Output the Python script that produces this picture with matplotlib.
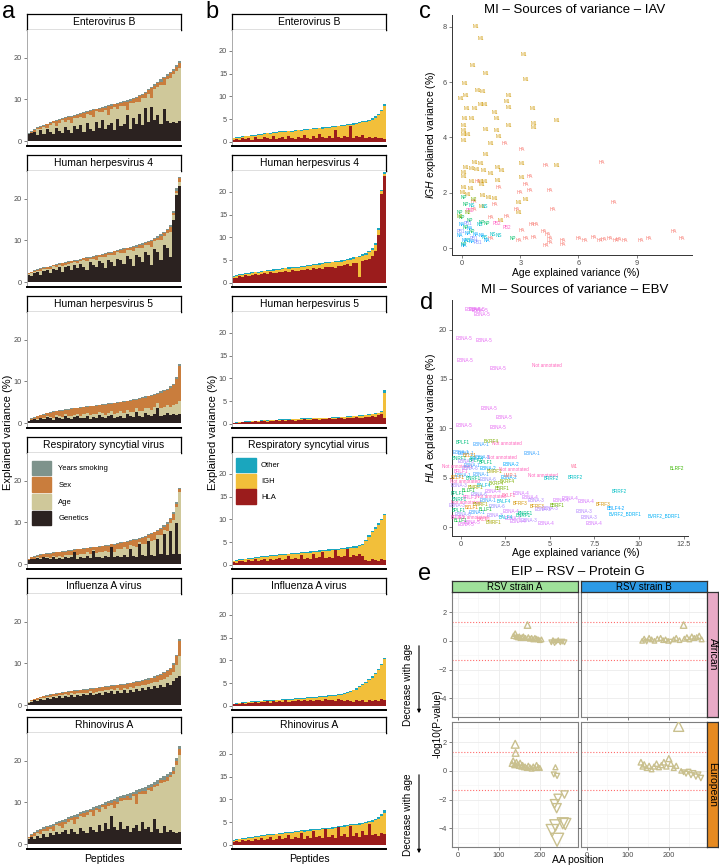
import numpy as np
from matplotlib import pyplot as plt
from matplotlib.patches import Patch

plt.rcParams['font.family'] = ['Liberation Sans', 'DejaVu Sans']
plt.rcParams['mathtext.fontset'] = 'custom'
plt.rcParams['mathtext.it'] = 'Liberation Sans:italic'
plt.rcParams['mathtext.rm'] = 'Liberation Sans'

# ---------------- panel a / b : explained variance per peptide ----------------
viruses = ['Enterovirus B', 'Human herpesvirus 4', 'Human herpesvirus 5',
           'Respiratory syncytial virus', 'Influenza A virus', 'Rhinovirus A']

# panel a: total, genetics, sex, years smoking (age = the rest)
ent_tot = [1.8,2.4,2.9,3.3,3.6,3.9,4.2,4.5,4.8,5.0,5.3,5.5,5.7,5.9,6.1,6.3,6.5,6.8,7.0,7.2,7.4,7.6,7.8,8.0,8.2,8.4,8.6,8.8,9.0,9.2,9.4,9.6,9.8,10.0,10.3,10.6,11.0,11.4,11.9,12.4,13.0,13.6,14.2,14.8,15.4,16.0,16.7,17.4,18.2,19.3]
ent_gen = [1.6,1.9,2.2,1.5,2.6,1.8,2.9,2.1,1.7,3.1,2.4,1.9,3.3,2.6,2.0,3.6,2.8,3.9,2.2,4.3,3.0,2.5,4.6,3.2,5.1,2.8,3.9,4.4,2.6,5.3,3.6,4.2,6.2,2.9,5.5,4.1,6.6,3.8,7.9,4.6,8.2,5.1,6.3,4.0,7.7,4.8,4.3,4.6,4.4,4.7]
ent_sex = [0.2,0.3,0.5,0.4,0.6,0.3,0.8,0.5,0.4,1.1,0.6,0.3,0.9,0.7,1.4,0.5,0.8,0.6,1.2,0.4,0.9,1.6,0.5,0.7,1.0,0.6,2.1,0.8,0.5,1.3,0.7,0.9,1.8,0.6,1.0,0.8,1.5,0.7,1.2,0.9,2.4,0.8,1.1,0.9,1.6,0.7,1.3,0.8,1.0,1.2]
ent_smk = [0.1,0.2,0.2,0.1,0.2,0.3,0.2,0.2,0.1,0.2,0.3,0.2,0.2,0.1,0.3,0.2,0.2,0.4,0.2,0.2,0.3,0.2,0.2,0.3,0.2,0.4,0.2,0.3,0.2,0.2,0.3,0.2,0.5,0.3,0.2,0.3,0.2,0.4,0.3,0.2,0.3,0.4,0.2,0.5,0.3,0.4,0.3,0.5,0.4,0.6]

hhv4_tot = [2.2,2.5,2.8,3.1,3.3,3.5,3.7,3.9,4.1,4.3,4.5,4.6,4.8,5.0,5.1,5.3,5.4,5.6,5.8,5.9,6.1,6.3,6.4,6.6,6.8,7.0,7.1,7.3,7.5,7.7,7.9,8.1,8.3,8.5,8.7,8.9,9.1,9.3,9.6,9.9,10.2,10.6,11.0,11.5,12.1,12.8,13.6,17.0,22.5,25.3]
hhv4_gen = [1.8,1.5,2.1,2.4,1.7,2.6,3.0,2.2,3.2,2.8,3.5,2.4,3.6,3.9,2.9,4.1,3.3,4.4,3.7,3.0,4.8,4.1,3.5,5.0,4.6,3.4,5.3,4.8,3.9,5.6,5.2,4.4,6.3,5.5,3.8,6.6,5.9,4.7,7.2,6.4,4.1,7.9,7.3,5.2,9.0,8.1,6.0,14.8,21.0,23.0]
hhv4_sex = [0.2,0.3,0.2,0.3,0.4,0.2,0.3,0.5,0.2,0.4,0.3,0.6,0.3,0.4,0.5,0.3,0.6,0.3,0.4,0.7,0.3,0.5,0.8,0.4,0.5,0.9,0.3,0.6,0.8,0.4,0.7,0.9,0.5,0.6,1.1,0.4,0.7,0.9,0.5,0.8,1.3,0.6,0.7,1.0,0.8,0.9,1.2,0.7,0.6,0.8]
hhv4_smk = [0.1,0.1,0.2,0.1,0.2,0.1,0.2,0.2,0.1,0.2,0.2,0.1,0.3,0.2,0.1,0.2,0.3,0.2,0.1,0.2,0.3,0.2,0.2,0.1,0.3,0.2,0.2,0.3,0.1,0.2,0.3,0.2,0.2,0.3,0.2,0.4,0.2,0.3,0.2,0.3,0.4,0.2,0.3,0.4,0.3,0.2,0.4,0.3,0.5,0.4]

hhv5_tot = [0.6,1.0,1.4,1.7,2.0,2.2,2.4,2.6,2.8,3.0,3.1,3.2,3.3,3.4,3.5,3.6,3.7,3.8,3.9,4.0,4.1,4.2,4.3,4.4,4.5,4.6,4.7,4.8,4.9,5.0,5.1,5.2,5.4,5.5,5.7,5.8,6.0,6.2,6.4,6.6,6.8,7.0,7.3,7.6,7.9,8.3,8.8,9.5,11.0,14.2]
hhv5_gen = [0.5,0.8,1.0,0.7,1.2,0.9,1.4,1.1,0.8,1.5,1.2,1.0,1.6,1.3,0.9,1.4,1.7,1.1,1.3,1.8,1.0,1.5,1.2,1.9,1.4,1.1,1.6,2.0,1.3,1.5,1.8,1.2,2.2,1.6,1.4,2.6,1.7,1.5,2.3,1.9,1.6,2.1,3.5,1.8,2.0,2.4,1.9,2.2,2.0,2.1]
hhv5_sex = [0.1,0.2,0.3,0.7,0.6,0.9,0.7,1.0,1.3,1.0,1.2,1.5,1.1,1.4,1.8,1.5,1.3,1.9,1.7,1.4,2.1,1.8,2.0,1.6,2.0,2.4,2.1,1.8,2.5,2.3,2.0,2.7,2.1,2.5,2.9,2.0,2.8,3.1,2.6,2.9,3.4,3.0,2.2,3.6,3.8,3.7,4.5,4.8,6.0,8.5]
hhv5_smk = [0.0,0.1,0.1,0.1,0.1,0.2,0.1,0.1,0.2,0.1,0.1,0.2,0.1,0.2,0.1,0.1,0.2,0.2,0.1,0.2,0.1,0.2,0.2,0.1,0.2,0.2,0.1,0.2,0.2,0.3,0.1,0.2,0.2,0.3,0.2,0.2,0.3,0.2,0.3,0.2,0.3,0.2,0.3,0.4,0.3,0.3,0.4,0.3,0.4,0.5]

rsv_tot = [1.2,1.6,1.9,2.1,2.3,2.4,2.6,2.7,2.8,2.9,3.0,3.1,3.2,3.3,3.4,3.5,3.6,3.7,3.8,3.9,4.0,4.1,4.2,4.3,4.4,4.5,4.6,4.8,4.9,5.0,5.2,5.3,5.5,5.7,5.9,6.1,6.3,6.5,6.8,7.1,7.4,7.8,8.2,8.7,9.3,10.0,11.0,12.5,14.8,18.3]
rsv_gen = [1.0,1.3,1.1,1.5,1.2,1.6,1.4,1.1,1.7,1.3,1.5,1.2,1.8,1.4,1.6,2.9,1.3,1.7,1.5,1.9,1.4,3.1,1.6,1.8,1.5,2.0,1.7,4.1,1.6,1.9,1.8,2.2,1.7,3.5,2.0,1.8,4.7,2.1,1.9,5.6,2.2,2.0,6.1,2.4,7.3,2.1,8.0,2.3,9.9,2.5]
rsv_sex = [0.2,0.3,0.6,0.4,0.7,0.5,0.8,1.0,0.7,1.0,0.9,1.2,0.8,1.1,1.0,0.5,1.3,1.1,1.2,1.0,1.4,0.6,1.3,1.2,1.5,1.1,1.4,0.5,1.6,1.3,1.5,1.2,1.7,1.0,1.4,1.6,0.8,1.5,1.7,0.7,1.6,1.8,0.9,1.5,0.8,1.7,0.9,1.6,0.7,0.6]
rsv_smk = [0.0,0.1,0.1,0.1,0.2,0.1,0.1,0.2,0.1,0.1,0.2,0.1,0.2,0.1,0.2,0.1,0.1,0.2,0.2,0.1,0.2,0.1,0.2,0.2,0.1,0.2,0.2,0.1,0.3,0.2,0.2,0.1,0.3,0.2,0.2,0.3,0.2,0.2,0.3,0.2,0.3,0.2,0.3,0.2,0.3,0.3,0.2,0.4,0.3,0.3]

iav_tot = [0.8,1.2,1.5,1.8,2.0,2.2,2.4,2.6,2.7,2.9,3.0,3.1,3.2,3.3,3.4,3.5,3.6,3.7,3.8,3.9,4.0,4.1,4.2,4.3,4.4,4.5,4.6,4.7,4.8,4.9,5.0,5.1,5.2,5.4,5.5,5.7,5.8,6.0,6.2,6.4,6.6,6.9,7.2,7.5,7.9,8.4,9.0,10.0,12.0,15.8]
iav_gen = [0.6,0.8,1.1,1.0,1.4,1.3,1.7,1.5,1.9,1.6,2.1,1.8,2.2,1.9,2.4,2.0,2.5,2.2,2.7,2.3,2.9,2.4,2.6,3.0,2.5,3.1,2.8,3.3,2.7,3.4,3.0,3.5,2.9,3.7,3.2,3.9,3.4,4.0,3.6,4.3,3.8,4.6,4.0,4.9,4.4,5.2,4.9,5.8,6.5,7.0]
iav_sex = [0.1,0.2,0.2,0.4,0.3,0.4,0.3,0.5,0.4,0.6,0.4,0.6,0.5,0.7,0.5,0.7,0.6,0.8,0.6,0.8,0.6,0.9,0.8,0.7,0.9,0.7,0.9,0.7,1.0,0.8,1.0,0.8,1.1,0.9,1.0,0.9,1.1,1.0,1.2,1.0,1.2,1.1,1.3,1.2,1.4,1.3,1.5,1.6,2.0,3.5]
iav_smk = [0.0,0.1,0.1,0.1,0.1,0.1,0.2,0.1,0.1,0.2,0.1,0.2,0.1,0.2,0.1,0.2,0.2,0.1,0.2,0.2,0.1,0.2,0.2,0.2,0.1,0.2,0.2,0.2,0.2,0.1,0.3,0.2,0.2,0.2,0.3,0.2,0.2,0.3,0.2,0.3,0.2,0.3,0.3,0.2,0.3,0.3,0.3,0.4,0.3,0.4]

rhv_tot = [1.8,2.4,2.9,3.3,3.7,4.0,4.3,4.6,4.9,5.2,5.5,5.8,6.1,6.4,6.7,7.0,7.3,7.6,7.9,8.2,8.5,8.8,9.1,9.4,9.7,10.0,10.3,10.6,10.9,11.2,11.5,11.8,12.1,12.3,12.6,12.9,13.2,13.5,13.8,14.1,14.5,14.9,15.4,15.9,16.4,16.8,17.4,18.5,20.8,23.5]
rhv_gen = [1.2,1.6,1.3,2.0,1.5,2.4,1.8,2.6,2.1,3.0,2.3,2.8,3.3,2.5,3.6,2.9,2.4,3.9,3.1,2.7,4.2,3.4,2.9,4.6,3.2,5.0,3.5,6.8,4.1,3.3,5.4,3.7,4.3,2.9,3.8,4.6,3.2,5.2,3.6,4.1,2.8,5.9,3.5,2.7,4.4,3.0,3.4,2.9,2.6,2.8]
rhv_sex = [0.2,0.4,0.7,0.3,0.9,0.4,0.8,0.5,1.2,0.4,0.7,1.5,0.5,0.8,0.4,1.9,0.6,0.5,1.0,0.6,0.4,1.3,0.5,0.7,0.5,0.9,0.6,0.4,1.6,0.5,0.7,0.4,0.9,0.5,0.6,2.4,0.5,0.8,0.6,0.5,0.9,0.6,0.5,0.7,0.6,0.8,0.5,0.7,0.9,1.4]
rhv_smk = [0.2,0.3,0.2,0.4,0.3,0.5,0.3,0.4,0.6,0.3,0.5,0.4,0.7,0.3,0.5,0.4,0.8,0.4,0.5,0.6,0.4,0.7,0.5,0.9,0.4,0.6,0.5,0.8,0.6,1.0,0.5,0.7,0.6,1.2,0.5,0.8,0.6,0.7,1.1,0.6,0.8,0.7,0.9,0.6,1.0,0.8,0.7,0.9,0.8,0.6]

# panel b: total, HLA, other (IGH = the rest)
ent_btot = [0.9,1.0,1.1,1.2,1.3,1.4,1.5,1.6,1.7,1.8,1.9,2.0,2.0,2.1,2.2,2.3,2.3,2.4,2.5,2.5,2.6,2.7,2.7,2.8,2.9,2.9,3.0,3.1,3.1,3.2,3.3,3.3,3.4,3.5,3.6,3.7,3.8,3.9,4.0,4.1,4.2,4.4,4.5,4.7,4.9,5.2,5.6,6.2,7.0,8.3]
ent_hla = [0.5,0.7,0.4,0.8,0.6,0.9,0.5,1.0,0.7,0.6,1.1,0.8,0.6,1.2,0.7,0.9,1.0,0.6,1.3,0.8,0.7,1.1,0.9,1.5,0.8,0.7,1.2,0.9,1.8,1.0,0.8,1.3,0.9,2.6,1.0,0.8,1.4,1.1,3.4,0.9,1.2,1.0,1.5,0.8,1.1,0.9,1.0,0.8,0.9,0.7]
ent_oth = [0.1,0.1,0.2,0.1,0.1,0.2,0.1,0.2,0.1,0.2,0.2,0.1,0.3,0.1,0.2,0.1,0.2,0.2,0.1,0.3,0.2,0.1,0.2,0.2,0.3,0.1,0.2,0.2,0.1,0.3,0.2,0.2,0.1,0.3,0.2,0.2,0.4,0.2,0.2,0.3,0.2,0.3,0.2,0.3,0.2,0.3,0.3,0.2,0.3,0.4]

hhv4_btot = [1.5,1.7,1.9,2.0,2.1,2.2,2.3,2.4,2.5,2.6,2.7,2.8,2.9,3.0,3.0,3.1,3.2,3.3,3.4,3.5,3.5,3.6,3.7,3.8,3.9,4.0,4.1,4.2,4.3,4.4,4.5,4.6,4.7,4.8,4.9,5.0,5.1,5.3,5.4,5.6,5.8,6.0,6.3,6.6,7.0,7.6,8.8,12.0,20.5,24.3]
hhv4_hla = [1.1,1.0,1.5,1.4,1.7,1.5,1.8,1.9,1.7,2.0,2.1,1.9,2.3,2.2,2.1,2.5,2.3,2.6,2.5,2.8,2.6,2.7,2.9,2.8,3.1,2.9,3.2,3.1,3.3,3.0,3.5,3.4,3.6,3.3,3.8,3.7,3.9,4.1,3.8,4.3,4.4,1.2,4.8,5.0,5.3,5.9,7.0,10.5,19.5,23.5]
hhv4_oth = [0.1,0.2,0.1,0.2,0.1,0.2,0.2,0.1,0.3,0.2,0.1,0.2,0.2,0.3,0.1,0.2,0.2,0.1,0.3,0.2,0.2,0.3,0.1,0.2,0.2,0.3,0.2,0.2,0.3,0.2,0.2,0.3,0.2,0.3,0.2,0.3,0.3,0.2,0.3,0.3,0.2,0.3,0.3,0.4,0.3,0.3,0.4,0.3,0.3,0.4]

hhv5_btot = [0.3,0.4,0.5,0.5,0.6,0.6,0.7,0.7,0.7,0.8,0.8,0.8,0.9,0.9,0.9,1.0,1.0,1.0,1.0,1.1,1.1,1.1,1.2,1.2,1.2,1.2,1.3,1.3,1.3,1.4,1.4,1.4,1.5,1.5,1.5,1.6,1.6,1.7,1.7,1.8,1.8,1.9,1.9,2.0,2.1,2.2,2.3,2.5,2.9,7.4]
hhv5_hla = [0.2,0.3,0.3,0.4,0.4,0.5,0.4,0.6,0.5,0.6,0.7,0.5,0.7,0.6,0.8,0.7,0.8,0.7,0.9,0.8,0.7,0.9,0.8,1.0,0.9,0.8,1.0,1.1,0.9,1.1,1.0,1.2,1.1,1.0,1.3,1.2,1.1,1.3,1.4,1.2,1.5,1.3,1.4,1.6,1.5,1.7,1.6,1.9,2.2,1.4]
hhv5_oth = [0.1,0.1,0.1,0.0,0.1,0.1,0.1,0.1,0.1,0.1,0.0,0.1,0.1,0.1,0.1,0.1,0.1,0.1,0.1,0.1,0.1,0.1,0.1,0.1,0.1,0.1,0.1,0.1,0.1,0.1,0.1,0.1,0.1,0.1,0.1,0.1,0.1,0.1,0.1,0.1,0.1,0.1,0.1,0.1,0.1,0.1,0.1,0.1,0.2,0.5]

rsv_btot = [0.9,1.1,1.2,1.3,1.4,1.5,1.6,1.7,1.8,1.9,2.0,2.0,2.1,2.2,2.2,2.3,2.4,2.4,2.5,2.6,2.6,2.7,2.8,2.8,2.9,3.0,3.0,3.1,3.2,3.2,3.3,3.4,3.5,3.5,3.6,3.7,3.8,3.9,4.0,4.1,4.2,4.4,4.6,5.5,6.5,7.5,8.3,9.2,10.2,11.3]
rsv_hla = [0.7,0.5,0.9,0.8,0.6,1.0,0.9,1.2,0.8,1.1,1.3,0.9,1.4,1.0,1.2,1.6,1.1,1.3,1.9,1.2,1.5,1.3,2.1,1.4,1.6,1.3,2.4,1.5,1.7,2.9,1.6,1.8,1.5,3.3,1.9,1.7,2.0,3.6,1.8,2.2,1.9,2.3,2.0,1.1,0.9,1.3,1.0,0.8,1.2,1.0]
rsv_oth = [0.1,0.2,0.1,0.2,0.2,0.1,0.2,0.2,0.3,0.1,0.2,0.2,0.2,0.3,0.2,0.2,0.3,0.2,0.2,0.3,0.2,0.3,0.2,0.2,0.3,0.3,0.2,0.3,0.3,0.2,0.3,0.3,0.3,0.2,0.3,0.3,0.3,0.3,0.3,0.3,0.4,0.3,0.3,0.3,0.4,0.3,0.3,0.4,0.3,0.4]

iav_btot = [0.5,0.6,0.7,0.8,0.8,0.9,1.0,1.0,1.1,1.1,1.2,1.2,1.3,1.3,1.4,1.4,1.5,1.5,1.6,1.6,1.7,1.7,1.8,1.8,1.9,1.9,2.0,2.0,2.1,2.2,2.2,2.3,2.4,2.5,2.6,2.7,2.9,3.1,3.3,3.6,3.9,4.3,4.8,5.3,5.9,6.5,7.3,8.2,9.3,10.6]
iav_hla = [0.4,0.4,0.5,0.6,0.5,0.7,0.6,0.8,0.7,0.9,0.8,1.0,0.7,1.0,0.9,1.1,0.8,1.2,0.9,1.1,1.0,1.3,1.0,1.2,1.1,1.4,1.0,1.3,1.2,1.1,1.5,1.2,1.3,1.1,1.6,1.2,1.0,1.4,1.1,0.9,1.3,1.0,1.2,0.9,1.4,1.1,1.3,1.0,1.5,1.2]
iav_oth = [0.1,0.1,0.1,0.1,0.2,0.1,0.2,0.1,0.2,0.1,0.2,0.1,0.2,0.2,0.2,0.2,0.2,0.2,0.2,0.2,0.2,0.2,0.2,0.2,0.2,0.2,0.2,0.2,0.2,0.2,0.2,0.2,0.2,0.3,0.2,0.2,0.3,0.2,0.3,0.2,0.3,0.2,0.3,0.3,0.2,0.3,0.3,0.3,0.3,0.3]

rhv_btot = [1.0,1.2,1.4,1.5,1.6,1.7,1.8,1.9,2.0,2.1,2.2,2.3,2.4,2.5,2.5,2.6,2.7,2.8,2.9,2.9,3.0,3.1,3.2,3.2,3.3,3.4,3.5,3.5,3.6,3.7,3.8,3.8,3.9,4.0,4.1,4.2,4.3,4.4,4.5,4.6,4.7,4.8,4.9,5.1,5.3,5.5,5.8,6.2,6.8,7.6]
rhv_hla = [0.6,0.8,0.7,1.0,0.9,1.1,0.8,1.3,1.0,1.5,1.1,1.2,1.7,1.0,1.4,1.9,1.2,1.6,2.2,1.3,1.8,1.5,2.6,1.4,1.9,1.6,3.1,1.7,2.0,1.5,3.4,1.8,2.2,1.6,3.9,1.9,2.4,1.7,4.2,2.0,2.6,1.8,3.0,2.1,4.6,2.2,2.5,2.0,2.7,2.3]
rhv_oth = [0.1,0.2,0.2,0.1,0.2,0.2,0.3,0.2,0.2,0.1,0.3,0.2,0.2,0.3,0.2,0.2,0.3,0.2,0.2,0.3,0.2,0.3,0.2,0.3,0.2,0.3,0.2,0.3,0.3,0.2,0.3,0.3,0.3,0.2,0.2,0.3,0.3,0.3,0.2,0.3,0.3,0.4,0.3,0.3,0.3,0.4,0.3,0.4,0.4,0.5]

a_sets = [(ent_tot, ent_gen, ent_sex, ent_smk), (hhv4_tot, hhv4_gen, hhv4_sex, hhv4_smk),
          (hhv5_tot, hhv5_gen, hhv5_sex, hhv5_smk), (rsv_tot, rsv_gen, rsv_sex, rsv_smk),
          (iav_tot, iav_gen, iav_sex, iav_smk), (rhv_tot, rhv_gen, rhv_sex, rhv_smk)]
b_sets = [(ent_btot, ent_hla, ent_oth), (hhv4_btot, hhv4_hla, hhv4_oth), (hhv5_btot, hhv5_hla, hhv5_oth),
          (rsv_btot, rsv_hla, rsv_oth), (iav_btot, iav_hla, iav_oth), (rhv_btot, rhv_hla, rhv_oth)]

# ---------------- panel c : IAV ----------------
iav_m1_x = [0.69,0.98,3.18,0.57,1.2,3.3,0.12,0.82,1.08,-0.05,0.2,2.39,2.32,0.94,1.15,0.26,0.65,2.39,3.66,1.68,0.12,0.51,1.8,4.86,2.42,3.7,3.7,0.07,0.07,0.07,0.07,0.31,1.23,1.8,1.9,1.5,1.23,0.65,0.98,0.2,0.5,0.75,1.1,3.1,4.86,1.85,2.05,1.5,0.07,0.07,0.5,0.94,1.15,3.1,1.85,1.0,0.1,0.45,0.05,0.3,1.05,1.4,1.7,3.3,2.9,1.0,2.9,2.0]
iav_m1_y = [8.0,7.57,7.0,6.6,6.3,6.1,5.95,5.7,5.65,5.4,5.5,5.5,5.3,5.2,5.2,5.05,5.05,5.08,5.05,4.9,4.7,4.68,4.7,4.6,4.43,4.5,4.37,4.43,4.25,4.1,3.9,4.1,4.3,4.25,4.05,3.8,3.4,3.1,3.05,2.9,2.88,2.85,2.82,3.07,3.0,2.9,2.8,2.7,2.75,2.6,2.4,2.4,2.4,2.55,2.45,2.3,2.2,2.15,2.0,1.95,1.9,1.85,1.8,1.75,1.65,1.5,1.3,1.0]
iav_ha_x = [2.2,3.1,4.3,3.5,3.3,3.5,4.5,1.9,3.0,0.82,0.6,1.7,2.8,0.6,4.67,2.3,1.5,3.6,3.8,4.2,4.4,4.5,3.1,3.7,1.5,4.5,7.2,7.8,10.9,11.3,6.0,6.3,6.8,7.1,7.3,7.6,7.9,8.1,8.4,9.2,9.6,5.2,5.2,4.3,3.3,2.9]
iav_ha_y = [3.8,3.55,3.0,2.6,2.3,2.1,2.1,2.2,2.0,2.4,1.7,1.6,1.4,1.4,1.4,1.15,1.1,0.85,0.85,0.6,0.5,0.35,0.65,0.4,0.35,0.2,3.1,1.65,0.6,0.36,0.35,0.3,0.4,0.3,0.32,0.36,0.3,0.33,0.3,0.3,0.36,0.3,0.15,0.1,0.35,0.3]
iav_np_x = [0.1,0.2,-0.1,0.0,0.4,1.0,1.3,0.2,0.5,2.6,0.1]
iav_np_y = [1.85,1.6,1.3,1.1,1.0,0.95,0.9,0.75,0.6,0.35,0.15]
iav_ns_x = [0.5,1.2,0.9,1.6,1.2,0.3,1.9]
iav_ns_y = [1.55,1.5,0.85,0.5,0.4,0.3,0.45]
iav_na_x = [0.0,0.3,0.7,-0.1,0.15,0.5,1.0,1.3,0.1,0.4]
iav_na_y = [0.85,0.55,0.5,0.45,0.3,0.25,0.45,0.3,0.1,0.7]
iav_pb1_x = [0.3,0.6,-0.05,0.8]
iav_pb1_y = [0.9,0.35,0.6,0.2]
iav_pb2_x = [2.3,0.4,1.8]
iav_pb2_y = [0.75,1.35,0.9]
iav_m2_x = [0.3,0.6,-0.1]
iav_m2_y = [1.3,1.75,1.15]

# ---------------- panel d : EBV ----------------
d_x = [0.7,0.9,1.05,1.2,0.15,1.3,0.25,2.1,1.55,2.4,0.2,2.1,0.3,
       4.8,2.6,2.3,-0.2,4.6,0.2,3.0,1.7,0.3,0.7,
       0.1,0.8,1.7,2.0,1.1,4.0,0.3,1.2,0.6,0.1,2.8,1.5,2.7,2.8,6.4,6.4,5.1,8.9,12.1,
       7.0,7.5,3.4,5.6,4.8,2.9,7.95,4.3,8.7,9.2,11.4,6.9,7.2,5.0,3.8,
       0.0,0.5,-0.1,0.9,0.3,1.4,0.5,1.9,0.0,1.1,-0.2,0.7,1.5,2.6,1.3,-0.1,0.8,2.3,0.4,1.8,
       -0.2,1.0,2.7,0.5,3.9,-0.1,1.5,2.4,3.3,1.1,-0.2,2.0,0.6,4.6,1.4,-0.1,2.8,0.9,3.6,0.1,
       1.9,-0.2,2.5,1.3,0.0,3.2,1.8,0.6,6.1,5.4,4.2,3.5]
d_y = [22.0,22.05,21.95,21.5,19.1,18.9,16.9,16.1,12.0,11.1,10.3,10.1,0.3,
       16.4,8.5,7.0,6.1,5.2,4.6,5.8,3.1,2.5,1.0,
       8.6,6.7,8.7,4.4,8.4,7.5,7.5,7.1,6.2,5.2,6.3,5.9,5.0,5.2,6.1,5.0,4.9,3.6,5.9,
       2.6,0.4,3.4,2.7,0.4,0.9,2.3,2.1,1.9,1.3,1.15,1.6,1.0,1.9,0.7,
       7.6,7.3,6.9,6.9,6.6,6.5,5.9,5.6,5.6,5.3,5.0,4.9,4.8,4.6,4.2,4.2,4.0,3.9,3.7,3.6,
       3.4,3.3,3.2,3.0,3.0,2.8,2.7,2.6,2.4,2.3,2.2,2.1,2.0,1.8,1.8,1.7,1.6,1.5,1.4,1.3,
       1.2,1.0,1.0,0.8,0.7,0.6,0.5,0.5,2.9,2.2,2.7,1.2]
d_lab = ['EBNA-5'] * 13 + ['Not annotated'] * 10 + [
    'BPLF1','BPLF1','BKRF4','BKRF4','EBNA-1','EBNA-1','EBNA-1','EBNA-1','EBNA-1','EBNA-1',
    'EBNA-2','EBNA-2','EBNA-2','LMP-1','W1','BRRF2','BRRF2','BRRF2','BLRF2',
    'EBNA-4','EBNA-4','EBNA-4','EBNA-4','EBNA-4','EBNA-4','BFRF3','BFRF3','BBLF4-2',
    'BVRF2_BDRF1','BVRF2_BDRF1','EBNA-3','EBNA-3','EBNA-3','EBNA-3',
    'EBNA-1','BZLF1','BNRF1','BALF4','EBNA-3','BPLF1','EBNA-6','BMRF1','BRLF1','EBNA-1',
    'BZLF1','BNRF1','EBNA-6','BKRF4','BALF4','EBNA-3','BMRF1','BBRF1','BLLF1','EBNA-4',
    'BPLF1','EBNA-6','BXLF1','BRLF1','EBNA-4','BNRF1','EBNA-1','BALF4','BFRF3','BMRF1',
    'EBNA-3','EBNA-6','BZLF1','EBNA-3','BLLF1','BPLF1','EBNA-4','EBNA-1','BNRF1','EBNA-6',
    'EBNA-3','BRLF1','BALF4','BXLF1','BLLF1','EBNA-4','BMRF1','EBNA-5','EBNA-4','BBRF1',
    'EBNA-3','BNRF1']

iav_colors = {'M1': '#CD9600', 'HA': '#F8766D', 'NP': '#00BE67', 'NS': '#00BFC4',
              'NA': '#00A9FF', 'PB1': '#8494FF', 'PB2': '#FF61C3', 'M2': '#7CAE00'}
ebv_colors = {'EBNA-5': '#E76BF3', 'EBNA-4': '#D575FE', 'EBNA-3': '#B385FF', 'EBNA-6': '#9590FF',
              'EBNA-1': '#35A2FF', 'EBNA-2': '#00A9FF', 'Not annotated': '#FF62BC', 'BPLF1': '#00BF7D',
              'BKRF4': '#7CAE00', 'BLRF2': '#39B600', 'BRRF2': '#00BFC4', 'BFRF3': '#D39200',
              'BVRF2_BDRF1': '#00B0F6', 'W1': '#FF6A98', 'LMP-1': '#F8766D', 'BBLF4-2': '#00A5FF',
              'BNRF1': '#00C08B', 'BALF4': '#00BBDA', 'BZLF1': '#E58700', 'BMRF1': '#A3A500',
              'BRLF1': '#FB61D7', 'BLLF1': '#00BA38', 'BXLF1': '#FF67A4', 'BBRF1': '#6BB100'}

# ---------------- panel e : RSV protein G ----------------
e_afr_a_pos = [136,140,143,147,150,153,157,160,165,170,172,176,180,184,188,192,196,200,204,228,232,236,240,245,250,255,260]
e_afr_a_val = [0.35,0.5,0.3,0.25,0.3,0.2,0.25,0.3,0.2,1.1,0.25,0.15,0.2,0.1,0.2,0.15,0.1,0.05,0.1,-0.1,0.05,-0.15,-0.05,0.05,-0.1,-0.05,-0.1]
e_afr_b_pos = [135,140,146,152,158,165,172,180,186,192,198,204,212,218,226,236,238,244,250,256,262,268,274,280]
e_afr_b_val = [0.0,0.15,-0.05,0.2,0.1,0.0,0.15,0.2,0.05,0.1,0.0,-0.05,0.1,0.2,0.05,1.1,0.15,0.25,0.1,0.3,0.2,0.25,0.35,0.1]
e_eur_a_pos = [132,135,138,140,141,143,146,149,152,155,158,161,164,168,172,176,180,184,188,192,196,200,238,234,242,260,244,236,241,238,256,230,262,242]
e_eur_a_val = [0.5,0.7,0.4,1.85,1.25,0.6,0.45,0.35,0.55,0.3,0.4,0.25,0.3,0.2,0.35,0.25,0.15,0.3,0.2,0.4,0.25,0.2,0.25,-0.25,-0.35,-1.65,-1.9,-2.3,-2.6,-3.8,-3.65,-4.15,-3.7,-4.8]
e_eur_b_pos = [132,136,140,146,152,158,164,170,176,182,188,194,200,205,212,218,224,230,236,242,248,254,260,266,272,278]
e_eur_b_val = [0.6,0.3,0.45,0.2,0.35,0.1,0.3,0.5,0.25,0.4,0.6,0.3,0.85,0.5,0.2,0.35,3.1,0.0,-0.1,-0.2,-0.05,-0.3,-0.15,-0.4,-0.25,-0.5]

col_gen, col_age, col_sex, col_smk = '#2b2220', '#cfc89a', '#c97d3d', '#7e938c'
col_oth, col_igh, col_hla = '#1aa6be', '#f2bf3a', '#9b1c1c'
khaki = '#c9c08e'
tick_col = '#4d4d4d'

W, H = 719, 866
fig = plt.figure(figsize=(W / 100, H / 100), dpi=100)


def box(l, t, r, b):
    return fig.add_axes([l / W, 1 - b / H, (r - l) / W, (b - t) / H])


def ftext(x, y, s, **kw):
    fig.text(x / W, 1 - y / H, s, **kw)


def strip(l, t, r, b, s, fc='white', ec='black', rot=0, size=7.5):
    ax = box(l, t, r, b)
    ax.set_facecolor(fc)
    ax.set_xticks([])
    ax.set_yticks([])
    for sp in ax.spines.values():
        sp.set_color(ec)
        sp.set_linewidth(0.9)
    ax.text(0.5, 0.5, s, transform=ax.transAxes, ha='center', va='center', fontsize=size, rotation=rot)


def classic(ax):
    ax.spines['top'].set_visible(False)
    ax.spines['right'].set_visible(False)
    ax.spines['left'].set_color('#333333')
    ax.spines['bottom'].set_color('#333333')
    ax.spines['left'].set_linewidth(0.7)
    ax.spines['bottom'].set_linewidth(0.7)
    ax.tick_params(length=2, width=0.5, color=tick_col, labelcolor=tick_col, labelsize=5.3, pad=1.5)


tops = [14, 155, 296, 437, 578, 717]

# panel a
for i, name in enumerate(viruses):
    t = tops[i]
    strip(27, t, 181, t + 16, name)
    ax = box(27, t + 16, 181, t + 132)
    tot, gen, sex, smk = [np.array(v) for v in a_sets[i]]
    age = np.clip(tot - gen - sex - smk, 0, None)
    x = np.arange(len(tot))
    bottom = np.zeros(len(tot))
    for vals, col in [(gen, col_gen), (age, col_age), (sex, col_sex), (smk, col_smk)]:
        ax.bar(x, vals, bottom=bottom, width=1.02, color=col, linewidth=0)
        bottom = bottom + vals
    ax.set_xlim(-0.5, len(x) - 0.5)
    ax.set_ylim(-1.2, 26.7)
    ax.set_yticks([0, 10, 20])
    ax.set_xticks([])
    classic(ax)
    ax.spines['left'].set_color('#aaaaaa')
    ax.spines['bottom'].set_linewidth(1.4)
    ax.spines['bottom'].set_color('black')
    if i == 3:
        handles = [Patch(color=c) for c in [col_smk, col_sex, col_age, col_gen]]
        ax.legend(handles, ['Years smoking', 'Sex', 'Age', 'Genetics'], loc='upper left',
                  bbox_to_anchor=(0.03, 0.935), frameon=False, fontsize=5.5, borderpad=0,
                  borderaxespad=0, handlelength=2.6, handleheight=2.6, labelspacing=0.25,
                  handletextpad=0.9)

# panel b
for i, name in enumerate(viruses):
    t = tops[i]
    strip(232, t, 386, t + 16, name)
    ax = box(232, t + 16, 386, t + 132)
    tot, hla, oth = [np.array(v) for v in b_sets[i]]
    igh = np.clip(tot - hla - oth, 0, None)
    x = np.arange(len(tot))
    bottom = np.zeros(len(tot))
    for vals, col in [(hla, col_hla), (igh, col_igh), (oth, col_oth)]:
        ax.bar(x, vals, bottom=bottom, width=1.02, color=col, linewidth=0)
        bottom = bottom + vals
    ax.set_xlim(-0.5, len(x) - 0.5)
    ax.set_ylim(-0.9, 24.6)
    ax.set_yticks([0, 5, 10, 15, 20])
    ax.set_xticks([])
    classic(ax)
    ax.spines['left'].set_color('#aaaaaa')
    ax.spines['bottom'].set_linewidth(1.4)
    ax.spines['bottom'].set_color('black')
    if i == 3:
        handles = [Patch(color=c) for c in [col_oth, col_igh, col_hla]]
        ax.legend(handles, ['Other', 'IGH', 'HLA'], loc='upper left',
                  bbox_to_anchor=(0.025, 0.96), frameon=False, fontsize=5.5, borderpad=0,
                  borderaxespad=0, handlelength=2.6, handleheight=2.6, labelspacing=0.15,
                  handletextpad=0.7)

ftext(8, 432, 'Explained variance (%)', rotation=90, ha='center', va='center', fontsize=8)
ftext(213, 432, 'Explained variance (%)', rotation=90, ha='center', va='center', fontsize=8)
ftext(104, 859, 'Peptides', ha='center', va='center', fontsize=7.5)
ftext(309, 859, 'Peptides', ha='center', va='center', fontsize=7.5)

# panel c
ax = box(452, 15, 692, 255)
c_groups = [('M1', iav_m1_x, iav_m1_y), ('HA', iav_ha_x, iav_ha_y), ('NP', iav_np_x, iav_np_y),
            ('NS', iav_ns_x, iav_ns_y), ('NA', iav_na_x, iav_na_y), ('PB1', iav_pb1_x, iav_pb1_y),
            ('PB2', iav_pb2_x, iav_pb2_y), ('M2', iav_m2_x, iav_m2_y)]
for lab, xs, ys in c_groups:
    for xx, yy in zip(xs, ys):
        ax.text(xx, yy, lab, color=iav_colors[lab], fontsize=3.3, ha='center', va='center')
ax.set_xlim(-0.52, 11.85)
ax.set_ylim(-0.24, 8.42)
ax.set_xticks([0, 3, 6, 9])
ax.set_yticks([0, 2, 4, 6, 8])
classic(ax)
ftext(575, 10, 'MI – Sources of variance – IAV', ha='center', va='center', fontsize=9.5)
ftext(576, 273, 'Age explained variance (%)', ha='center', va='center', fontsize=7.5)
ftext(431, 135, r'$\mathit{IGH}$ explained variance (%)', rotation=90, ha='center', va='center', fontsize=7.5)

# panel d
ax = box(452, 300, 688, 536)
for xx, yy, lab in zip(d_x, d_y, d_lab):
    ax.text(xx, yy, lab, color=ebv_colors[lab], fontsize=3.3, ha='center', va='center')
ax.set_xlim(-0.5, 12.75)
ax.set_ylim(-0.9, 23.0)
ax.set_xticks([0, 2.5, 5, 7.5, 10, 12.5])
ax.set_xticklabels(['0', '2.5', '5', '7.5', '10', '12.5'])
ax.set_yticks([0, 5, 10, 15, 20])
classic(ax)
ftext(575, 290, 'MI – Sources of variance – EBV', ha='center', va='center', fontsize=9.5)
ftext(576, 553, 'Age explained variance (%)', ha='center', va='center', fontsize=7.5)
ftext(431, 418, r'$\mathit{HLA}$ explained variance (%)', rotation=90, ha='center', va='center', fontsize=7.5)

# panel e
e_sets = [(e_afr_a_pos, e_afr_a_val), (e_afr_b_pos, e_afr_b_val),
          (e_eur_a_pos, e_eur_a_val), (e_eur_b_pos, e_eur_b_val)]
e_boxes = [(452, 592, 578, 717), (581, 592, 707, 717), (452, 722, 578, 847), (581, 722, 707, 847)]
for k in range(4):
    ax = box(*e_boxes[k])
    pos, val = np.array(e_sets[k][0]), np.array(e_sets[k][1])
    sizes = (3.2 + 1.3 * np.abs(val)) ** 2
    up = val >= 0
    ax.scatter(pos[up], val[up], s=sizes[up], marker='^', facecolors='none', edgecolors=khaki, linewidths=1.0, zorder=3)
    ax.scatter(pos[~up], val[~up], s=sizes[~up], marker='v', facecolors='none', edgecolors=khaki, linewidths=1.0, zorder=3)
    ax.axhline(1.3, color='#ff6b6b', linestyle=':', linewidth=0.8, zorder=2)
    ax.axhline(-1.3, color='#ff6b6b', linestyle=':', linewidth=0.8, zorder=2)
    ax.set_xlim(-14, 293)
    ax.set_ylim(-5.3, 3.4)
    ax.set_xticks([0, 100, 200])
    ax.set_xticks([50, 150, 250], minor=True)
    ax.set_yticks([-4, -2, 0, 2])
    ax.set_yticks([-5, -3, -1, 1, 3], minor=True)
    ax.grid(which='major', color='#ebebeb', linewidth=0.6)
    ax.grid(which='minor', color='#f4f4f4', linewidth=0.4)
    ax.set_axisbelow(True)
    for sp in ax.spines.values():
        sp.set_color('#7f7f7f')
        sp.set_linewidth(0.8)
    ax.tick_params(which='both', length=2, width=0.5, color=tick_col, labelcolor=tick_col, labelsize=5.3, pad=1.5)
    ax.tick_params(which='minor', length=0)
    if k % 2 == 1:
        ax.set_yticklabels([])
    if k < 2:
        ax.set_xticklabels([])

strip(452, 581, 578, 592, 'RSV strain A', fc='#9fe19a', ec='#333333', size=7)
strip(581, 581, 707, 592, 'RSV strain B', fc='#2c9ae6', ec='#333333', size=7)
strip(707, 592, 718, 717, 'African', fc='#e8aac6', ec='#333333', rot=-90, size=7.5)
strip(707, 722, 718, 847, 'European', fc='#e68a21', ec='#333333', rot=-90, size=7.5)

ftext(578, 572, 'EIP – RSV – Protein G', ha='center', va='center', fontsize=9.5)
ftext(578, 860, 'AA position', ha='center', va='center', fontsize=7.5)
ftext(438, 724, '-log10(P-value)', rotation=90, ha='center', va='center', fontsize=7.2)
ftext(408, 685, 'Decrease with age', rotation=90, ha='center', va='center', fontsize=7.2)
ftext(408, 815, 'Decrease with age', rotation=90, ha='center', va='center', fontsize=7.2)
for y0, y1 in [(643, 716), (772, 856)]:
    fig.add_artist(plt.matplotlib.patches.FancyArrowPatch(
        (419 / W, 1 - y0 / H), (419 / W, 1 - y1 / H), transform=fig.transFigure,
        arrowstyle='-|>', mutation_scale=5, linewidth=0.8, color='black'))

# panel letters
for s, x, y in [('a', 8.5, 18.5), ('b', 212, 18.5), ('c', 425, 18.5), ('d', 427, 309), ('e', 425, 580)]:
    ftext(x, y, s, ha='center', va='baseline', fontsize=17)

fig.savefig('out.png', dpi=100)
